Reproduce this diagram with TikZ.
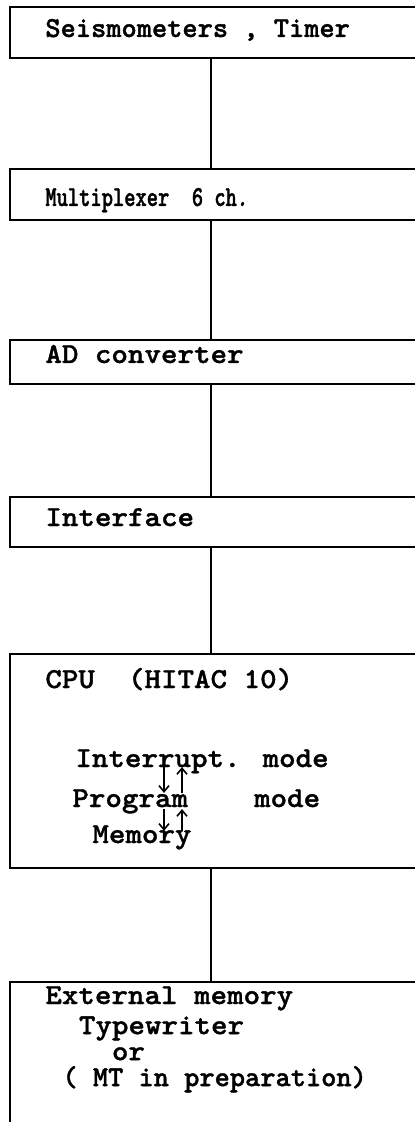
\documentclass[tikz,border=0pt]{standalone}
\usepackage{fontspec}
\newfontfamily\typer{lmmonolt10-bold}[Extension=.otf,FakeStretch=1.085,FakeBold=1.2]
\newfontfamily\picatyper{lmmonolt10-bold}[Extension=.otf,FakeBold=1.2]
\newfontfamily\elitetyper{lmmonolt10-bold}[Extension=.otf,FakeStretch=0.74,FakeBold=1.2]
\usetikzlibrary{arrows.meta}

\begin{document}
\begin{tikzpicture}[x=0.5pt,y=-0.5pt,
every node/.style={font=\typer\fontsize{14.5}{13}\selectfont},
unitbox/.style={draw,line width=1pt,anchor=north west,inner sep=0pt,minimum width=220pt},
label/.style={anchor=base west,inner sep=0pt},
link/.style={line width=1pt},
modearrow/.style={line width=0.8pt,-{Straight Barb[length=3pt,width=5pt]}}]

\useasboundingbox (0,0) rectangle (414,1122);
\coordinate (spine) at (211,0);
\coordinate (dcol) at (164,0);
\coordinate (ucol) at (182,0);

% the chain of units
\node[unitbox,minimum height=25.5pt] (b1) at (9,6) {};
\node[unitbox,minimum height=25.5pt] (b2) at (9,168) {};
\node[unitbox,minimum height=22pt]   (b3) at (9,339) {};
\node[unitbox,minimum height=25pt]   (b4) at (9,496) {};
\node[unitbox,minimum height=107pt]  (b5) at (9,653) {};
\node[unitbox,minimum height=80pt]   (b6) at (9,981) {};

\node[label] (seis) at (45,37)  {\picatyper Seismometers , Timer};
\node[label] (mux)  at (45,206) {\elitetyper Multiplexer~~6 ch.};
\node[label] (adc)  at (45,363) {AD converter};
\node[label] (intf) at (45,526) {Interface};
\node[label] (cpu)  at (45,688) {CPU~~(HITAC 10)};
\node[label] (intr) at (75,767) {Interrupt. mode};
\node[label] (prog) at (72,807) {Program~~~~mode};
\node[label] (mem)  at (92,843) {Memory};
\node[label] (ext)  at (45,1004) {External memory};
\node[anchor=north west,inner sep=0pt,align=left] (devs) at (62,1016)
  {~Typewriter\\~~~or\\{\picatyper ( MT in preparation)}};

% arrows between the modes
\draw[modearrow] (intr.base -| dcol) -- ([yshift=-2pt]prog.north -| dcol);
\draw[modearrow] ([yshift=-2pt]prog.north -| ucol) -- (intr.base -| ucol);
\draw[modearrow] ([yshift=-1pt]prog.base -| dcol) -- ([yshift=-3pt]mem.north -| dcol);
\draw[modearrow] ([yshift=-3pt]mem.north -| ucol) -- ([yshift=-1pt]prog.base -| ucol);

\draw[link] (b1.south -| spine) -- (b2.north -| spine);
\draw[link] (b2.south -| spine) -- (b3.north -| spine);
\draw[link] (b3.south -| spine) -- (b4.north -| spine);
\draw[link] (b4.south -| spine) -- (b5.north -| spine);
\draw[link] (b5.south -| spine) -- (b6.north -| spine);

\end{tikzpicture}
\end{document}
